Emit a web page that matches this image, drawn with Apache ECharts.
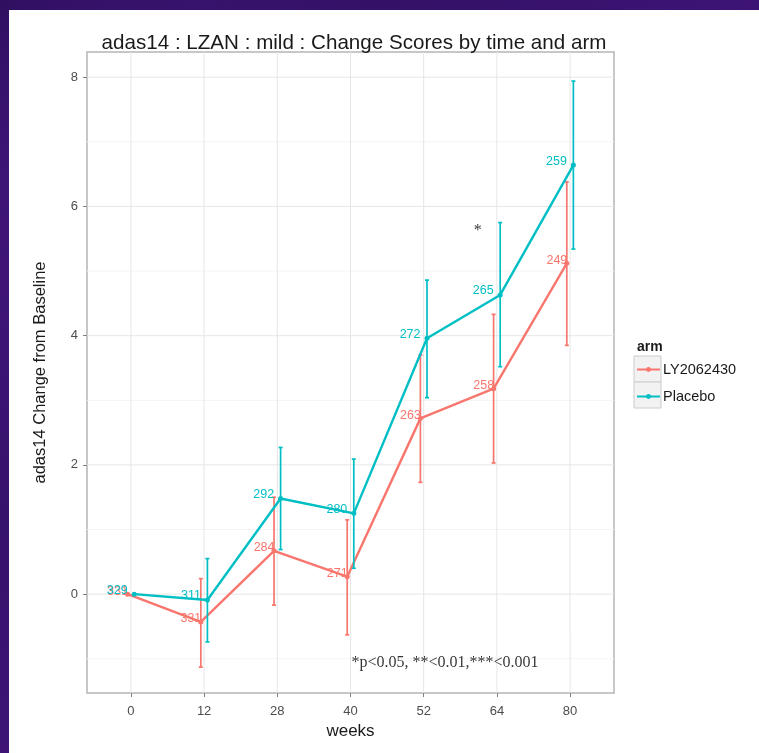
<!DOCTYPE html>
<html>
<head>
<meta charset="utf-8">
<script src="https://cdn.jsdelivr.net/npm/echarts@6/dist/echarts.min.js"></script>
<style>
html,body{margin:0;padding:0;width:759px;height:753px;overflow:hidden;}
body{background:#2a0f52;background-image:radial-gradient(circle at 20% 30%,#4a1a8a 0,rgba(74,26,138,0) 40%),radial-gradient(circle at 80% 70%,#3b137a 0,rgba(59,19,122,0) 45%),linear-gradient(135deg,#2b0d58,#3d1475 50%,#250b4c);}
#bg{position:absolute;left:9px;top:10px;right:0;bottom:0;background:#fff;}
#chart{position:absolute;left:0;top:0;width:759px;height:753px;}
</style>
</head>
<body>
<div id="bg"></div>
<div id="chart"></div>
<script>
const weeks = ['0','12','28','40','52','64','80'];
const armNames = ['LY2062430','Placebo'];
const lyMean = [0, -0.43, 0.67, 0.27, 2.72, 3.18, 5.12];
const lyLow  = [null, -1.13, -0.17, -0.63, 1.73, 2.03, 3.85];
const lyHigh = [null, 0.24, 1.50, 1.15, 3.70, 4.33, 6.38];
const lyN    = [331, 331, 284, 271, 263, 258, 249];
const pbMean = [0, -0.09, 1.48, 1.25, 3.96, 4.63, 6.64];
const pbLow  = [null, -0.74, 0.69, 0.40, 3.04, 3.52, 5.34];
const pbHigh = [null, 0.55, 2.27, 2.09, 4.86, 5.75, 7.94];
const pbN    = [329, 311, 292, 280, 272, 265, 259];
const yTicks = [0, 2, 4, 6, 8];
const yMinor = [-1, 1, 3, 5, 7];
const sigMark = '*';
const sigMarkPos = [4.74, 5.63];
const noteText = '*p<0.05, **<0.01,***<0.001';
const notePos = [4.29, -1.07];

const colors = ['#F8766D', '#00BFC4'];
const dodge = 0.045;

function pts(mean, n, off){ return mean.map((v,i)=>({value:[i+off, v], n:n[i]})); }
function bars(lo, hi, off){ return lo.map((v,i)=> v==null?null:[i+off, v, hi[i]]).filter(d=>d); }

function errRender(color){
  return function(params, api){
    const x = api.value(0), lo = api.value(1), hi = api.value(2);
    const p1 = api.coord([x, lo]), p2 = api.coord([x, hi]);
    const c = 2;
    const st = {stroke: color, lineWidth: 1.7};
    return {type:'group', children:[
      {type:'line', shape:{x1:p1[0],y1:p1[1],x2:p2[0],y2:p2[1]}, style:st},
      {type:'line', shape:{x1:p1[0]-c,y1:p1[1],x2:p1[0]+c,y2:p1[1]}, style:st},
      {type:'line', shape:{x1:p2[0]-c,y1:p2[1],x2:p2[0]+c,y2:p2[1]}, style:st}
    ]};
  };
}

// gridline specs: [orientation 0=horizontal 1=vertical, value, major 0/1]
const gridLines = [
  ...yMinor.map(v=>[0, v, 0]),
  ...yTicks.map(v=>[0, v, 1]),
  ...weeks.map((w,i)=>[1, i, 1])
];
function gridRender(params, api){
  const cs = params.coordSys;
  const o = api.value(0), v = api.value(1), major = api.value(2);
  const color = major ? '#e6e6e6' : '#f3f3f3';
  if (o === 0) {
    const y = api.coord([0, v])[1];
    return {type:'line', shape:{x1:cs.x, y1:y, x2:cs.x+cs.width, y2:y}, style:{stroke:color, lineWidth:1}};
  }
  const x = api.coord([v, 0])[0];
  return {type:'line', shape:{x1:x, y1:cs.y, x2:x, y2:cs.y+cs.height}, style:{stroke:color, lineWidth:1}};
}

const chart = echarts.init(document.getElementById('chart'), null, {renderer:'canvas'});
const font = 'Liberation Sans, Arial, sans-serif';
const serif = 'Liberation Serif, Times New Roman, serif';

const option = {
  backgroundColor: 'transparent',
  animation: false,
  title: {
    text: 'adas14 : LZAN : mild : Change Scores by time and arm',
    left: 349, top: 28, textAlign: 'center',
    textStyle: {fontFamily: font, fontSize: 20.6, fontWeight: 'normal', color: '#1a1a1a'}
  },
  grid: {left: 87, top: 52, width: 527, height: 641, show: true, borderColor: '#b5b5b5', borderWidth: 1.5, backgroundColor: 'transparent'},
  legend: {
    orient: 'vertical', left: 631, top: 357, itemGap: 12, itemWidth: 23, itemHeight: 6,
    data: armNames,
    textStyle: {fontFamily: font, fontSize: 14.5, color: '#1a1a1a', padding: [0,0,0,-2]}
  },
  xAxis: {
    type: 'value', min: -0.6, max: 6.6,
    name: 'weeks', nameLocation: 'middle', nameGap: 30,
    nameTextStyle: {fontFamily: font, fontSize: 17, color: '#1a1a1a'},
    axisLine: {show: false, onZero: false},
    axisTick: {show: true, length: 4, lineStyle: {color: '#7f7f7f'}, customValues: weeks.map((w,i)=>i)},
    axisLabel: {customValues: weeks.map((w,i)=>i), formatter: v => weeks[Math.round(v)], fontFamily: font, fontSize: 13, color: '#4d4d4d', margin: 12},
    splitLine: {show: false}
  },
  yAxis: {
    type: 'value', min: -1.53, max: 8.39,
    name: 'adas14 Change from Baseline', nameLocation: 'middle', nameGap: 38, nameRotate: 90,
    nameTextStyle: {fontFamily: font, fontSize: 16.5, color: '#1a1a1a'},
    axisLine: {show: false, onZero: false},
    axisTick: {show: true, length: 4, lineStyle: {color: '#7f7f7f'}, customValues: yTicks},
    axisLabel: {customValues: yTicks, fontFamily: font, fontSize: 13, color: '#4d4d4d', margin: 9},
    splitLine: {show: false}
  },
  graphic: [
    {type:'text', left: 637, top: 340, style:{text:'arm', fontFamily: font, fontSize: 14, fontWeight:'bold', fill:'#1a1a1a'}},
    {type:'rect', shape:{x:634,y:356,width:27,height:26}, style:{fill:'#f2f2f2', stroke:'#cccccc', lineWidth:1}, z: -1},
    {type:'rect', shape:{x:634,y:382,width:27,height:26}, style:{fill:'#f2f2f2', stroke:'#cccccc', lineWidth:1}, z: -1}
  ],
  series: [
    {
      type: 'custom', name: '_grid', renderItem: gridRender, data: gridLines, silent: true, z: 0,
      encode: {x: [], y: []}
    },
    {
      type: 'custom', name: 'LY2062430 CI', renderItem: errRender(colors[0]),
      data: bars(lyLow, lyHigh, -dodge), encode: {x: 0, y: [1, 2]}, z: 2
    },
    {
      type: 'custom', name: 'Placebo CI', renderItem: errRender(colors[1]),
      data: bars(pbLow, pbHigh, dodge), encode: {x: 0, y: [1, 2]}, z: 4
    },
    {
      type: 'line', name: 'LY2062430', data: pts(lyMean, lyN, -dodge), z: 3,
      color: colors[0], symbol: 'circle', symbolSize: 5, showAllSymbol: true,
      lineStyle: {width: 2.4, color: colors[0]}, itemStyle: {color: colors[0]},
      label: {show: true, position: 'left', distance: 0, offset: [3, -3], formatter: p => p.data.n, color: colors[0], fontFamily: font, fontSize: 12.5}
    },
    {
      type: 'line', name: 'Placebo', data: pts(pbMean, pbN, dodge), z: 5,
      color: colors[1], symbol: 'circle', symbolSize: 5, showAllSymbol: true,
      lineStyle: {width: 2.4, color: colors[1]}, itemStyle: {color: colors[1]},
      label: {show: true, position: 'left', distance: 4, offset: [0, -4], formatter: p => p.data.n, color: colors[1], fontFamily: font, fontSize: 12.5}
    },
    {
      type: 'scatter', name: '_notes', symbolSize: 0, silent: true, z: 6,
      data: [
        {value: sigMarkPos, text: sigMark},
        {value: notePos, text: noteText}
      ],
      label: {show: true, position: 'inside', formatter: p => p.data.text, fontFamily: serif, fontSize: 16, color: '#000'}
    }
  ]
};
chart.setOption(option);
</script>
</body>
</html>
